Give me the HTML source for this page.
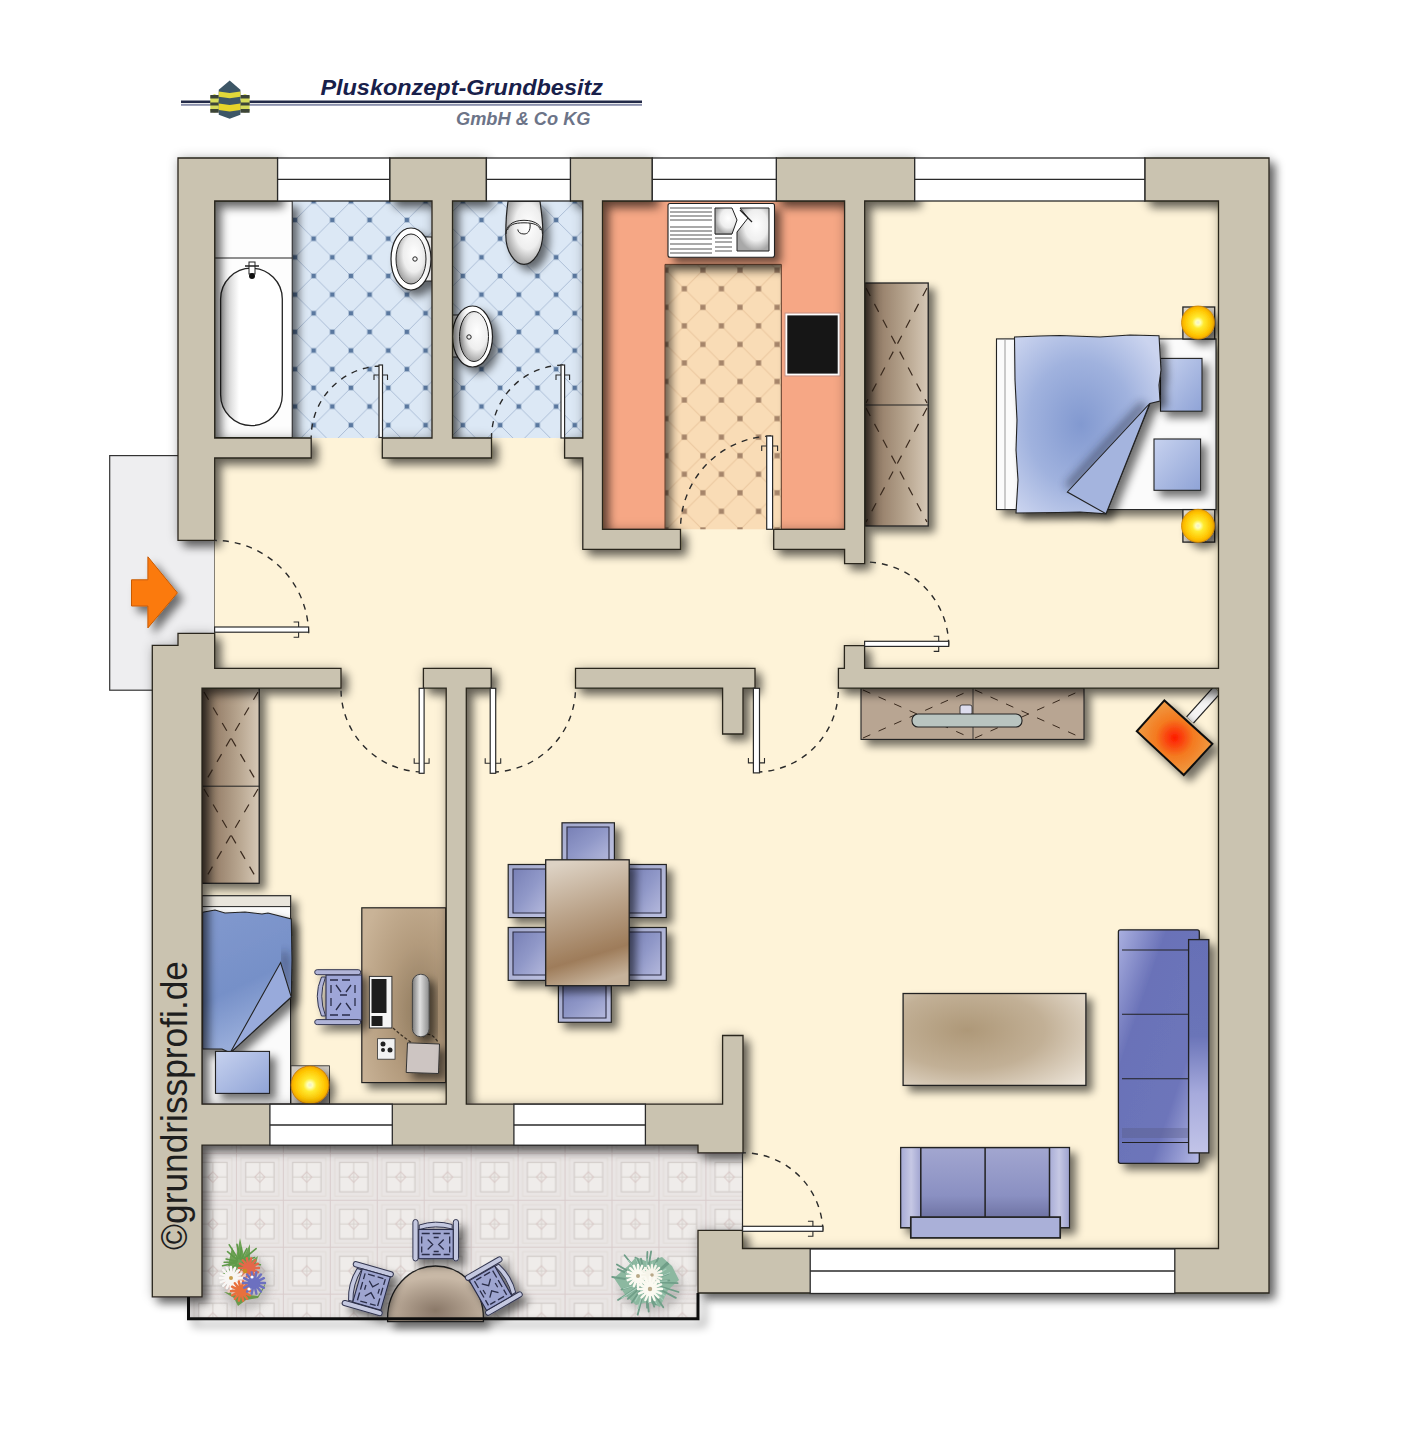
<!DOCTYPE html>
<html><head><meta charset="utf-8">
<style>
html,body{margin:0;padding:0;background:#fff;width:1418px;height:1440px;overflow:hidden;}
svg{display:block;}
text{font-family:"Liberation Sans",sans-serif;}
</style></head>
<body>
<svg width="1418" height="1440" viewBox="0 0 1418 1440">
<defs>
  <filter id="wallf" x="-5%" y="-5%" width="115%" height="115%">
    <feGaussianBlur in="SourceAlpha" stdDeviation="5" result="b"/>
    <feOffset in="b" dx="6" dy="6" result="o"/>
    <feComponentTransfer in="o" result="sh"><feFuncA type="linear" slope="0.55"/></feComponentTransfer>
    <feGaussianBlur in="SourceAlpha" stdDeviation="6" result="b2"/>
    <feComponentTransfer in="b2" result="glow"><feFuncA type="linear" slope="0.22"/></feComponentTransfer>
    <feMerge><feMergeNode in="glow"/><feMergeNode in="sh"/><feMergeNode in="SourceGraphic"/></feMerge>
  </filter>
  <filter id="sh" x="-50%" y="-50%" width="200%" height="200%">
    <feGaussianBlur in="SourceAlpha" stdDeviation="4" result="b"/>
    <feOffset in="b" dx="6" dy="6" result="o"/>
    <feComponentTransfer in="o" result="s"><feFuncA type="linear" slope="0.55"/></feComponentTransfer>
    <feMerge><feMergeNode in="s"/><feMergeNode in="SourceGraphic"/></feMerge>
  </filter>
  <pattern id="bathtile" patternUnits="userSpaceOnUse" width="37.3" height="37.3" x="332.3" y="220">
    <rect width="37.3" height="37.3" fill="#dce8f5"/>
    <path d="M0 0L37.3 37.3M37.3 0L0 37.3" stroke="#a2b5cf" stroke-width="0.85"/>
    <rect x="-2.3" y="-2.3" width="4.6" height="4.6" fill="#5a789f"/>
    <rect x="35" y="-2.3" width="4.6" height="4.6" fill="#5a789f"/>
    <rect x="-2.3" y="35" width="4.6" height="4.6" fill="#5a789f"/>
    <rect x="35" y="35" width="4.6" height="4.6" fill="#5a789f"/>
    <rect x="16.35" y="16.35" width="4.6" height="4.6" fill="#5a789f"/>
  </pattern>
  <pattern id="kittile" patternUnits="userSpaceOnUse" width="37.1" height="37.1" x="702.9" y="270.2">
    <rect width="37.1" height="37.1" fill="#f9dcb6"/>
    <path d="M0 0L37.1 37.1M37.1 0L0 37.1" stroke="#ecc9a0" stroke-width="1.1"/>
    <rect x="-2.6" y="-2.6" width="5.2" height="5.2" fill="#a6856a"/>
    <rect x="34.5" y="-2.6" width="5.2" height="5.2" fill="#a6856a"/>
    <rect x="-2.6" y="34.5" width="5.2" height="5.2" fill="#a6856a"/>
    <rect x="34.5" y="34.5" width="5.2" height="5.2" fill="#a6856a"/>
    <rect x="15.95" y="15.95" width="5.2" height="5.2" fill="#a6856a"/>
  </pattern>
  <pattern id="baltile" patternUnits="userSpaceOnUse" width="46.95" height="46.95" x="235.9" y="1152.8">
    <rect width="46.95" height="46.95" fill="#e9e5e4"/>
    <path d="M0 0.5H47M0.5 0V47" stroke="#d9cccc" stroke-width="1"/>
    <rect x="9.8" y="9.6" width="28.3" height="29.4" fill="#efecea" stroke="#cdc7c4" stroke-width="1"/>
    <path d="M23.9 9.6V39M9.8 24.3H38.1" stroke="#d6d0cc" stroke-width="1"/>
    <path d="M23.9 19L29 24.3L23.9 29.6L18.8 24.3Z" fill="none" stroke="#d8c8c6" stroke-width="1"/>
    <rect x="5" y="5" width="37.9" height="38.4" fill="none" stroke="#e2dcd8" stroke-width="1"/>
  </pattern>
  <filter id="noise" x="0" y="0" width="100%" height="100%">
    <feTurbulence type="fractalNoise" baseFrequency="0.9" numOctaves="2" seed="3" result="n"/>
    <feColorMatrix in="n" type="matrix" values="0 0 0 0 0.5  0 0 0 0 0.5  0 0 0 0 0.5  0 0 0 0.22 0" result="g"/>
    <feComposite in="g" in2="SourceGraphic" operator="in" result="gi"/>
    <feBlend in="SourceGraphic" in2="gi" mode="multiply"/>
  </filter>
  <filter id="shbal" filterUnits="userSpaceOnUse" x="150" y="1270" width="600" height="90">
    <feGaussianBlur in="SourceAlpha" stdDeviation="5" result="b"/>
    <feOffset in="b" dx="6" dy="6" result="o"/>
    <feComponentTransfer in="o" result="s"><feFuncA type="linear" slope="0.5"/></feComponentTransfer>
    <feMerge><feMergeNode in="s"/><feMergeNode in="SourceGraphic"/></feMerge>
  </filter>
  <filter id="soft" x="-20%" y="-20%" width="140%" height="140%"><feGaussianBlur stdDeviation="0.6"/></filter>
  <filter id="blur2"><feGaussianBlur stdDeviation="2"/></filter>
  <filter id="blur4" x="-50%" y="-50%" width="200%" height="200%"><feGaussianBlur stdDeviation="4"/></filter>
</defs>

<!-- LOGO -->
<g id="logo">
  <rect x="181" y="100.5" width="461" height="2.6" fill="#232a48"/>
  <rect x="181" y="104" width="461" height="1.8" fill="#8a90ac"/>
  <g id="bldg">
    <path d="M210.3 96 L214.5 94 L218.8 96 V111 L214.5 112.7 L210.3 111 Z" fill="#d6dc5a"/>
    <path d="M240.4 96 L245 94 L249.6 96 V111 L245 112.7 L240.4 111 Z" fill="#d6dc5a"/>
    <path d="M210.3 95H218.8V98.5H210.3ZM210.3 102.5H218.8V105.5H210.3ZM210.3 109H218.8V112.7H210.3Z M240.4 95H249.6V98.5H240.4ZM240.4 102.5H249.6V105.5H240.4ZM240.4 109H249.6V112.7H240.4Z" fill="#3c4438"/>
    <path d="M218.75 89.75 L229.7 80.6 L240.4 89.75 V114.8 L229.7 118.7 L218.75 114.8 Z" fill="#3d5666"/>
    <path d="M218.75 91.5 L229.7 93 L240.4 91.5 V96.8 L229.7 98.3 L218.75 96.8 Z" fill="#e2d83a"/>
    <path d="M218.75 103.5 L229.7 105 L240.4 103.5 V109.9 L229.7 111.4 L218.75 109.9 Z" fill="#e6d42a"/>
  </g>
  <text x="320.4" y="94.8" font-size="22.4" font-weight="bold" font-style="italic" fill="#18204a" textLength="282.6" lengthAdjust="spacingAndGlyphs">Pluskonzept-Grundbesitz</text>
  <text x="456" y="124.5" font-size="17.5" font-weight="bold" font-style="italic" fill="#6c7488" textLength="134.5" lengthAdjust="spacingAndGlyphs">GmbH &amp; Co KG</text>
</g>

<!-- FLOORS -->
<g id="floors">
  <!-- entrance vestibule -->
  <rect x="109.7" y="455.6" width="104.9" height="234.6" fill="#eeeef0" stroke="#333" stroke-width="1.2"/>
  <!-- main cream floor -->
  <rect x="214.6" y="437" width="1005" height="813" fill="#fef3d8"/>
  <rect x="200" y="670" width="30" height="440" fill="#fef3d8"/>
  <!-- bath -->
  <rect x="214.7" y="201" width="217.3" height="237" fill="url(#bathtile)"/>
  <rect x="452.5" y="201" width="130.3" height="237" fill="url(#bathtile)"/>
  <!-- kitchen -->
  <rect x="602.5" y="201" width="242.1" height="328.3" fill="url(#kittile)"/>
  <g filter="url(#sh)"><path d="M602.5 201H844.6V529.3H781.3V264.4H665V529.3H602.5Z" fill="#f6a785" stroke="#5a3a28" stroke-width="1"/></g>
  <!-- bedroom -->
  <rect x="864.6" y="201" width="354" height="468" fill="#fef3d8"/>
  <!-- balcony -->
  <path d="M202 1145H743V1230.4H698V1318.5H188.5V1297H202Z" fill="url(#baltile)"/>
</g>

<!-- FURNITURE -->
<defs>
  <linearGradient id="wood" x1="0" y1="0" x2="1" y2="0">
    <stop offset="0" stop-color="#6e5c4c"/><stop offset="0.3" stop-color="#9c8670"/><stop offset="0.65" stop-color="#b8a690"/><stop offset="1" stop-color="#d6c8b6"/>
  </linearGradient>
  <linearGradient id="woodv" x1="0" y1="0" x2="0" y2="1">
    <stop offset="0" stop-color="#8a725e"/><stop offset="0.5" stop-color="#b49e8a"/><stop offset="1" stop-color="#d2c3b3"/>
  </linearGradient>
  <linearGradient id="table" x1="0.3" y1="0" x2="0.5" y2="1">
    <stop offset="0" stop-color="#ddd2c4"/><stop offset="0.4" stop-color="#bca58c"/><stop offset="0.78" stop-color="#9e7c5a"/><stop offset="1" stop-color="#c6b29a"/>
  </linearGradient>
  <radialGradient id="ctable" cx="0.35" cy="0.4" r="0.85">
    <stop offset="0" stop-color="#ae9878"/><stop offset="0.5" stop-color="#c2b096"/><stop offset="1" stop-color="#ece4d8"/>
  </radialGradient>
  <linearGradient id="monitor" x1="0" y1="0" x2="1" y2="0">
    <stop offset="0" stop-color="#7a7a7a"/><stop offset="0.45" stop-color="#e0e0e0"/><stop offset="1" stop-color="#8a8a8a"/>
  </linearGradient>
  <radialGradient id="desk" cx="0.7" cy="0.6" r="0.8">
    <stop offset="0" stop-color="#8f7a5e"/><stop offset="0.5" stop-color="#b39b7d"/><stop offset="1" stop-color="#c9b397"/>
  </radialGradient>
  <radialGradient id="blanket" cx="0.45" cy="0.5" r="0.65">
    <stop offset="0" stop-color="#8299d0"/><stop offset="0.55" stop-color="#a0b2de"/><stop offset="1" stop-color="#cbd4ef"/>
  </radialGradient>
  <linearGradient id="blanket2" x1="0" y1="0" x2="0.3" y2="1">
    <stop offset="0" stop-color="#8299ce"/><stop offset="0.6" stop-color="#7690c8"/><stop offset="1" stop-color="#9cb0dc"/>
  </linearGradient>
  <linearGradient id="pillow" x1="0" y1="0" x2="1" y2="1">
    <stop offset="0" stop-color="#c7d2ef"/><stop offset="1" stop-color="#8fa3d6"/>
  </linearGradient>
  <radialGradient id="lamp" cx="0.5" cy="0.5" r="0.5">
    <stop offset="0" stop-color="#f0ecd0"/><stop offset="0.14" stop-color="#ffffb8"/><stop offset="0.35" stop-color="#ffea30"/><stop offset="0.8" stop-color="#ffc400"/><stop offset="1" stop-color="#f2a800"/>
  </radialGradient>
  <linearGradient id="sofa" x1="0" y1="0" x2="1" y2="1">
    <stop offset="0" stop-color="#aab0e0"/><stop offset="0.3" stop-color="#6a72b8"/><stop offset="0.7" stop-color="#6d75ba"/><stop offset="1" stop-color="#b6bae6"/>
  </linearGradient>
  <linearGradient id="sofah" x1="0" y1="0" x2="0" y2="1">
    <stop offset="0" stop-color="#a2a6d0"/><stop offset="0.6" stop-color="#8a90c2"/><stop offset="0.9" stop-color="#6c70a0"/><stop offset="1" stop-color="#9a9ecc"/>
  </linearGradient>
  <linearGradient id="sofaback" x1="0" y1="0" x2="0" y2="1">
    <stop offset="0" stop-color="#6670b6"/><stop offset="0.45" stop-color="#6a74b8"/><stop offset="0.72" stop-color="#a6aadc"/><stop offset="1" stop-color="#c2c4e8"/>
  </linearGradient>
  <linearGradient id="sofaarm" x1="0" y1="0" x2="1" y2="0">
    <stop offset="0" stop-color="#a8acd6"/><stop offset="0.5" stop-color="#c6c8e4"/><stop offset="1" stop-color="#a0a4d0"/>
  </linearGradient>
  <linearGradient id="chair" x1="0" y1="0" x2="1" y2="1">
    <stop offset="0" stop-color="#a2a8cc"/><stop offset="1" stop-color="#bcc0e0"/>
  </linearGradient>
  <linearGradient id="seat" x1="0" y1="0" x2="1" y2="1">
    <stop offset="0" stop-color="#7880b6"/><stop offset="0.5" stop-color="#9098c8"/><stop offset="1" stop-color="#b4b8dc"/>
  </linearGradient>
  <radialGradient id="fire" cx="0.5" cy="0.5" r="0.55">
    <stop offset="0" stop-color="#ff1a00"/><stop offset="0.45" stop-color="#f47a20"/><stop offset="1" stop-color="#eea24a"/>
  </radialGradient>
  <linearGradient id="tub" x1="0" y1="0" x2="1" y2="0">
    <stop offset="0" stop-color="#b8b8b8"/><stop offset="0.3" stop-color="#fff"/><stop offset="1" stop-color="#fff"/>
  </linearGradient>
  <radialGradient id="basin" cx="0.6" cy="0.4" r="0.6">
    <stop offset="0" stop-color="#fff"/><stop offset="0.6" stop-color="#eee"/><stop offset="1" stop-color="#a8a8a8"/>
  </radialGradient>
  <radialGradient id="halft" cx="0.5" cy="0.8" r="0.6">
    <stop offset="0" stop-color="#8a7868"/><stop offset="1" stop-color="#c8b8a6"/>
  </radialGradient>
</defs>
<g id="furniture" stroke="#222" stroke-width="1.3">
  <!-- bath -->
  <g filter="url(#sh)">
    <rect x="214.7" y="201" width="77.5" height="236.5" fill="#fdfdfd" stroke-width="1"/>
  </g>
  <path d="M214.7 258H292.2" stroke-width="1"/>
  <rect x="220.6" y="268.2" width="61.7" height="157.4" rx="30.8" fill="url(#tub)"/>
  <rect x="249" y="262" width="6" height="12" fill="#fff" stroke-width="1"/>
  <path d="M245 266H259" stroke-width="1.5"/>
  <circle cx="252" cy="276" r="3" fill="#111" stroke="none"/>
  <g filter="url(#sh)">
    <rect x="418" y="237" width="14" height="44" fill="#fff" stroke-width="1"/>
    <ellipse cx="411" cy="259" rx="20" ry="31" fill="#fff" stroke-width="1.2"/>
  </g>
  <ellipse cx="411" cy="259" rx="15" ry="25" fill="url(#basin)" stroke-width="1"/>
  <circle cx="415" cy="259" r="2.2" fill="none" stroke-width="1"/>
  <!-- wc -->
  <g filter="url(#sh)">
    <path d="M508 201.4 L540 201.4 C542 215 543 225 542.8 234 C542.5 252 533 264.4 524 264.4 C515 264.4 505.5 252 505.8 234 C505.8 225 506 215 508 201.4Z" fill="url(#basin)" stroke-width="1.2"/>
  </g>
  <path d="M506 234 C506 226 512 220.3 524 220.3 C536 220.3 542.5 226 542.5 234M507.5 230 C509 225 514 222.8 524 222.8 C534 222.8 539 225 540.5 230" fill="none" stroke-width="1"/>
  <path d="M530 223 C531 232 527 234 524 234 C520 234 518 232 517.8 229.4" fill="none" stroke-width="1"/>
  <g filter="url(#sh)">
    <rect x="452.5" y="315" width="12" height="42" fill="#fff" stroke-width="1"/>
    <ellipse cx="472.5" cy="336.5" rx="20" ry="30.5" fill="#fff" stroke-width="1.2"/>
  </g>
  <ellipse cx="474" cy="336.5" rx="14.5" ry="25" fill="url(#basin)" stroke-width="1"/>
  <circle cx="469" cy="337" r="2.2" fill="none" stroke-width="1"/>
  <!-- kitchen sink -->
  <g filter="url(#sh)">
    <rect x="668" y="203.5" width="106.5" height="53.8" rx="2" fill="#fff" stroke-width="1.1"/>
  </g>
  <g stroke="#555" stroke-width="1.2">
    <path d="M670 208H712M670 212H712M670 216H712M670 220H712M670 227H712M670 231H712M670 235H712M670 239H712M670 244H712M670 249H712M670 253H712"/>
    <path d="M715 234H732M715 238H732M715 242H732M715 247H732M715 251H732"/>
  </g>
  <path d="M715 208H732L737 220L732 234H715Z" fill="url(#basin)" stroke-width="1"/>
  <path d="M740 208H769V251H737V232L748 218Z" fill="url(#basin)" stroke-width="1"/>
  <path d="M740 210L752 222" stroke-width="1.3"/>
  <!-- hob -->
  <rect x="786.3" y="314.4" width="52.4" height="60.2" fill="#161616" stroke="#fff" stroke-width="2"/>
  <rect x="785" y="313" width="55" height="63" fill="none" stroke="#a88" stroke-width="0.6"/>
</g>

<g id="furniture2" stroke="#222" stroke-width="1.3">
  <!-- bedroom wardrobe -->
  <g filter="url(#sh)">
    <rect x="864.9" y="283" width="63.3" height="243" fill="url(#wood)"/>
  </g>
  <path d="M864.9 405H928.2" stroke-width="1"/>
  <g stroke="#3a2a1e" stroke-width="1.2" stroke-dasharray="9 9" fill="none">
    <path d="M866 288L927 403M927 288L866 403M866 408L927 522M927 408L866 522"/>
  </g>
  <!-- bed -->
  <g filter="url(#sh)">
    <rect x="996.5" y="338.9" width="219.5" height="170.7" fill="#fbfbfb" stroke-width="1.1"/>
  </g>
  <path d="M1005 339V509" stroke="#999" stroke-width="1"/>
  <g filter="url(#sh)">
    <rect x="1160.5" y="358.4" width="41.5" height="52.8" fill="url(#pillow)" stroke-width="1.1"/>
    <rect x="1154" y="439" width="46.6" height="51.3" fill="url(#pillow)" stroke-width="1.1"/>
  </g>
  <g filter="url(#sh)">
    <path d="M1014.5 337 L1040 336 L1060 335.5 L1100 337 L1130 335 L1159 335.8 L1161 370 L1159 385 L1160 401 L1150 403.5 L1106 513.8 L1080 512 L1058 512.5 L1016 513 L1018 480 L1016 450 L1017 420 L1015 380 Z" fill="url(#blanket)" stroke-width="1.1"/>
  </g>
  <path d="M1144 404 L1068 487" stroke="#1e2236" stroke-width="8" opacity="0.5" fill="none" filter="url(#blur4)"/>
  <path d="M1149.7 403.5 L1067.4 492 L1106 513.8 Z" fill="#a4b4de" stroke-width="1.1"/>
  <!-- nightstands + lamps -->
  <rect x="1182.9" y="307" width="31.8" height="32" fill="#ddd6c8" stroke-width="1.3"/>
  <rect x="1182.9" y="509.6" width="31.8" height="32.5" fill="#ddd6c8" stroke-width="1.3"/>
  <g filter="url(#sh)">
    <circle cx="1198" cy="322.5" r="16.5" fill="url(#lamp)" stroke="#d08800" stroke-width="0.8"/>
    <circle cx="1198" cy="525.8" r="16.5" fill="url(#lamp)" stroke="#d08800" stroke-width="0.8"/>
  </g>
  <!-- sideboard -->
  <g filter="url(#sh)">
    <rect x="861" y="688" width="223" height="51.4" fill="#b8a592" stroke-width="1.1"/>
  </g>
  <path d="M973 688V739" stroke-width="0.8"/>
  <g stroke="#3a2a1e" stroke-width="1" stroke-dasharray="8 9" fill="none">
    <path d="M863 738L971 690M863 690L971 738M975 738L1082 690M975 690L1082 738"/>
  </g>
  <rect x="960" y="705" width="12" height="10" rx="2" fill="#dde" stroke-width="0.8"/>
  <rect x="912" y="714" width="110" height="13" rx="6" fill="#b9c4c0" stroke-width="1.1"/>
  <!-- fireplace -->
  <path d="M1190 720 L1217 690" stroke="#222" stroke-width="10.5" stroke-linecap="butt"/><path d="M1190 720 L1217 690" stroke="#f4f4f4" stroke-width="8" stroke-linecap="butt"/>
  <g filter="url(#sh)">
    <path d="M1164.4 700.4 L1136.8 731.3 L1183.8 775 L1212.4 743.9 Z" fill="url(#fire)" stroke="#111" stroke-width="2"/>
  </g>
  <!-- dining -->
  <g filter="url(#sh)" fill="url(#chair)" stroke-width="1.2">
    <rect x="562" y="822.8" width="52.4" height="38"/>
    <rect x="508.2" y="864.5" width="38.8" height="53.1"/>
    <rect x="508.2" y="927.5" width="38.8" height="52.9"/>
    <rect x="628" y="864.5" width="38.3" height="53.1"/>
    <rect x="628" y="927.5" width="38.3" height="52.9"/>
    <rect x="558.4" y="985" width="52.9" height="37.3"/>
  </g>
  <g fill="url(#seat)" stroke="none">
    <rect x="567" y="827" width="42" height="33"/>
    <rect x="513" y="869" width="33" height="44"/><rect x="513" y="932" width="33" height="43"/>
    <rect x="628" y="869" width="33" height="44"/><rect x="628" y="932" width="33" height="43"/>
    <rect x="563" y="986" width="43" height="32"/>
  </g>
  <g fill="none" stroke-width="1.1" stroke="#2a2a40">
    <path d="M567 860V827H609V860"/>
    <path d="M546 869H513V913H546M546 932H513V975H546"/>
    <path d="M628 869H661V913H628M628 932H661V975H628"/>
    <path d="M563 986V1018H606V986"/>
  </g>
  <g filter="url(#sh)">
    <rect x="545.7" y="859.8" width="83.5" height="125.9" fill="url(#table)" stroke-width="1.3"/>
  </g>
  <!-- coffee table -->
  <g filter="url(#sh)">
    <rect x="903.1" y="993.5" width="182.8" height="91.9" fill="url(#ctable)" stroke-width="1.3"/>
  </g>
  <!-- sofa vertical -->
  <g filter="url(#sh)">
    <rect x="1118.4" y="929.8" width="80.9" height="233.5" rx="2" fill="url(#sofa)" stroke-width="1.3"/>
    <rect x="1188.6" y="939.6" width="20.2" height="213.3" fill="url(#sofaback)" stroke-width="1.3"/>
  </g>
  <path d="M1122 950H1188M1122 1014.3H1188M1122 1078.8H1188M1122 1142.5H1188" stroke-width="1.1"/>
  <rect x="1122" y="1128" width="66" height="10" fill="#555a80" opacity="0.35" stroke="none"/>
  <!-- sofa bottom -->
  <g filter="url(#sh)">
    <rect x="900.8" y="1147.6" width="168.6" height="80.2" fill="url(#sofah)" stroke-width="1.5"/>
  </g>
  <rect x="901.5" y="1148.4" width="19.3" height="78.6" fill="url(#sofaarm)" stroke="none"/>
  <rect x="1049.5" y="1148.4" width="19.3" height="78.6" fill="url(#sofaarm)" stroke="none"/>
  <path d="M920.8 1148V1217M985.1 1148V1217M1049.5 1148V1217" stroke-width="1.5"/>
  <rect x="910.8" y="1217.1" width="149.4" height="20.8" fill="#aab0d8" stroke-width="1.7"/>
  <!-- child wardrobe -->
  <g filter="url(#sh)">
    <rect x="201.9" y="688" width="57.3" height="195.3" fill="url(#wood)"/>
  </g>
  <path d="M201.9 786.2H259.2" stroke-width="1"/>
  <g stroke="#3a2a1e" stroke-width="1.2" stroke-dasharray="9 9" fill="none">
    <path d="M204 692L258 784M258 692L204 784M204 789L258 881M258 789L204 881"/>
  </g>
  <!-- child bed -->
  <g filter="url(#sh)">
    <rect x="201.9" y="895.8" width="88.7" height="208.4" fill="#fbfbfb" stroke-width="1.1"/>
  </g>
  <rect x="201.9" y="895.8" width="88.7" height="10.8" fill="#e9e5dc" stroke-width="1"/>
  <g filter="url(#sh)">
    <path d="M202.6 912.2 L215 910 L225 913 L245 912 L262 914 L268 913 L291.3 919 L292 960 L291.3 997 L230.2 1052.8 L222 1049 L202.6 1049 Z" fill="url(#blanket2)" stroke-width="1.1"/>
  </g>
  <path d="M284 952 L289 990" stroke="#1e2236" stroke-width="7" opacity="0.45" fill="none" filter="url(#blur4)"/>
  <path d="M280.6 962.6 L291.3 997 L230.2 1052.8 Z" fill="#98aadb" stroke-width="1.1"/>
  <g filter="url(#sh)">
    <rect x="215.5" y="1051.4" width="54" height="42" fill="url(#pillow)" stroke-width="1.1"/>
  </g>
  <rect x="291" y="1065.8" width="38.4" height="38.2" fill="#cfc9c0" stroke-width="0.8"/>
  <g filter="url(#sh)">
    <circle cx="310" cy="1085" r="19" fill="url(#lamp)" stroke="#c07000" stroke-width="0.8"/>
  </g>
  <!-- desk -->
  <g filter="url(#sh)">
    <rect x="361.8" y="907.8" width="83.9" height="174.8" fill="url(#desk)" stroke-width="1.2"/>
  </g>
  <g filter="url(#sh)">
    <rect x="326" y="975" width="35.5" height="45" fill="#9ea6d8" stroke="#2a2d48" stroke-width="1.1"/>
    <rect x="314.7" y="969.7" width="46" height="5" rx="2.5" fill="#b0b4d8" stroke="#333650" stroke-width="1"/>
    <rect x="314.7" y="1019.6" width="46" height="5" rx="2.5" fill="#b0b4d8" stroke="#333650" stroke-width="1"/>
    <path d="M321.5 977 Q313 996 321.5 1016 H325.5 Q318 996 325.5 977Z" fill="#b0b4d8" stroke="#333650" stroke-width="1"/>
  </g>
  <path d="M330 980H338M342 980H350M330 1015H338M342 1015H350M331 985V993M331 998V1006M355 985V993M355 998V1006M336 985L341 992M346 992L351 985M336 1010L341 1003M346 1003L351 1010M340 995H347" stroke="#2a2d48" stroke-width="1.3" fill="none"/>
  <path d="M393 1028 Q402 1036 412 1043M423 1037 Q430 1030 438 1042" fill="none" stroke="#3a3024" stroke-width="1.2" stroke-dasharray="3 2"/>
  <rect x="369.4" y="976.4" width="22.5" height="51.6" fill="#f4f4f4" stroke="#333" stroke-width="1"/>
  <rect x="371.5" y="979" width="15" height="34" fill="#1c1c1c" stroke="none"/>
  <rect x="371.5" y="1016" width="11" height="10" fill="#1c1c1c" stroke="none"/>
  <g filter="url(#sh)">
    <rect x="412.4" y="974.3" width="16.8" height="62.4" rx="8" fill="url(#monitor)" stroke="#444" stroke-width="1"/>
  </g>
  <rect x="377.6" y="1038.7" width="17.4" height="20.5" fill="#f2f2f2" stroke="#333" stroke-width="0.8"/>
  <circle cx="383" cy="1044" r="2.5" fill="#222" stroke="none"/><circle cx="383" cy="1050" r="2" fill="#222" stroke="none"/><circle cx="390" cy="1050" r="2.5" fill="#222" stroke="none"/>
  <g filter="url(#sh)">
    <path d="M407.5 1042.8 L439.5 1044 L438.5 1073.5 L406.2 1072.5Z" fill="#cdc5c2" stroke="#333" stroke-width="1"/>
  </g>
  <!-- balcony -->
  <g filter="url(#sh)">
    <path d="M387.6 1318 A47.9 52 0 0 1 483.4 1318 V1321.7 H387.6Z" fill="url(#halft)" stroke-width="1.3"/>
  </g>
  <g filter="url(#sh)">
    <g transform="translate(435.7 1240.5)"><g class="bchair">
      <rect x="-22.8" y="-21" width="5.2" height="41.5" rx="2.6" fill="#c4c8e0" stroke="#333650" stroke-width="1"/>
      <rect x="17.6" y="-21" width="5.2" height="41.5" rx="2.6" fill="#c4c8e0" stroke="#333650" stroke-width="1"/>
      <path d="M-16.5 -15.5 Q0 -21 16.5 -16 V-11.5 Q0 -16 -16.5 -11Z" fill="#c4c8e0" stroke="#333650" stroke-width="1"/>
      <rect x="-17" y="-11" width="34.5" height="29.2" fill="#9ea5d0" stroke="#2a2d48" stroke-width="1.1"/>
      <path d="M-14 -7H-6M-3 -7H5M8 -7H14M-14 14H-6M-3 14H5M8 14H14M-14 -4V3M-14 6V12M14 -4V3M14 6V12M-8 -1L-3 4L-8 9M8 -1L3 4L8 9M-2 -3H3M-2 11H3" stroke="#2a2d48" stroke-width="1.3" fill="none"/>
    </g></g>
    <g transform="translate(368 1288.7) rotate(-74)"><g class="bchair">
      <rect x="-22.8" y="-21" width="5.2" height="41.5" rx="2.6" fill="#c4c8e0" stroke="#333650" stroke-width="1"/>
      <rect x="17.6" y="-21" width="5.2" height="41.5" rx="2.6" fill="#c4c8e0" stroke="#333650" stroke-width="1"/>
      <path d="M-16.5 -15.5 Q0 -21 16.5 -16 V-11.5 Q0 -16 -16.5 -11Z" fill="#c4c8e0" stroke="#333650" stroke-width="1"/>
      <rect x="-17" y="-11" width="34.5" height="29.2" fill="#9ea5d0" stroke="#2a2d48" stroke-width="1.1"/>
      <path d="M-14 -7H-6M-3 -7H5M8 -7H14M-14 14H-6M-3 14H5M8 14H14M-14 -4V3M-14 6V12M14 -4V3M14 6V12M-8 -1L-3 4L-8 9M8 -1L3 4L8 9M-2 -3H3M-2 11H3" stroke="#2a2d48" stroke-width="1.3" fill="none"/>
    </g></g>
    <g transform="translate(493.6 1286.2) rotate(60)"><g class="bchair">
      <rect x="-22.8" y="-21" width="5.2" height="41.5" rx="2.6" fill="#c4c8e0" stroke="#333650" stroke-width="1"/>
      <rect x="17.6" y="-21" width="5.2" height="41.5" rx="2.6" fill="#c4c8e0" stroke="#333650" stroke-width="1"/>
      <path d="M-16.5 -15.5 Q0 -21 16.5 -16 V-11.5 Q0 -16 -16.5 -11Z" fill="#c4c8e0" stroke="#333650" stroke-width="1"/>
      <rect x="-17" y="-11" width="34.5" height="29.2" fill="#9ea5d0" stroke="#2a2d48" stroke-width="1.1"/>
      <path d="M-14 -7H-6M-3 -7H5M8 -7H14M-14 14H-6M-3 14H5M8 14H14M-14 -4V3M-14 6V12M14 -4V3M14 6V12M-8 -1L-3 4L-8 9M8 -1L3 4L8 9M-2 -3H3M-2 11H3" stroke="#2a2d48" stroke-width="1.3" fill="none"/>
    </g></g>
  </g>
  <g stroke="none" filter="url(#soft)"><ellipse cx="246" cy="1283" rx="24" ry="28" fill="#666" opacity="0.3" filter="url(#blur4)"/><path d="M228 1266 L232 1247 L236 1258 L240 1238 L244 1256 L250 1244 L250 1262 L258 1256 L254 1272Z" fill="#6ea256"/><path d="M244.1 1262.6L260.4 1264.8M242.9 1262.6L254.3 1265.1M242.7 1264.7L253.4 1275.7M241.5 1264.9L247.4 1276.4M240.5 1265.6L242.6 1280.1M239.4 1265.0L237.0 1276.8M238.4 1264.9L231.9 1276.7M236.6 1264.5L223.1 1274.4M236.5 1262.8L222.6 1265.8M236.8 1262.1L224.1 1262.3M237.2 1261.4L226.1 1259.0M237.5 1259.9L227.5 1251.7M237.9 1258.6L229.3 1244.8M239.4 1258.5L237.0 1244.3M240.3 1259.2L241.3 1247.9M241.4 1259.3L246.8 1248.7M243.2 1259.3L256.1 1248.6M242.9 1261.1L254.6 1257.5" stroke="#5e9a48" stroke-width="1.6" stroke-linecap="round" fill="none"/><path d="M224 1292 L234 1298 L238 1306 L246 1300 L258 1298 L264 1288 L266 1282 L258 1296Z" fill="#6a9a4c"/><path d="M251.5 1268.0L259.0 1268.0M251.3 1269.1L258.0 1272.3M250.6 1270.0L255.2 1275.8M249.6 1270.4L251.2 1277.7M248.4 1270.4L246.8 1277.7M247.4 1270.0L242.8 1275.8M246.7 1269.1L240.0 1272.3M246.5 1268.0L239.0 1268.0M246.7 1266.9L240.0 1263.7M247.4 1266.0L242.8 1260.2M248.4 1265.6L246.8 1258.3M249.6 1265.6L251.2 1258.3M250.6 1266.0L255.2 1260.2M251.3 1266.9L258.0 1263.7" stroke="#e4684a" stroke-width="2.4" stroke-linecap="round" fill="none"/><circle cx="249" cy="1268" r="5.5" fill="#e4684a"/><path d="M240.0 1283.0L249.0 1283.0M239.8 1284.1L248.1 1287.6M239.1 1285.1L245.5 1291.5M238.1 1285.8L241.6 1294.1M237.0 1286.0L237.0 1295.0M235.9 1285.8L232.4 1294.1M234.9 1285.1L228.5 1291.5M234.2 1284.1L225.9 1287.6M234.0 1283.0L225.0 1283.0M234.2 1281.9L225.9 1278.4M234.9 1280.9L228.5 1274.5M235.9 1280.2L232.4 1271.9M237.0 1280.0L237.0 1271.0M238.1 1280.2L241.6 1271.9M239.1 1280.9L245.5 1274.5M239.8 1281.9L248.1 1278.4" stroke="#ecc8c0" stroke-width="2.6" stroke-linecap="round" fill="none"/><circle cx="237" cy="1283" r="6.6" fill="#ecc8c0"/><path d="M233.8 1278.0L242.0 1278.0M233.5 1279.1L241.2 1282.2M232.9 1279.9L238.8 1285.8M232.1 1280.5L235.2 1288.2M231.0 1280.8L231.0 1289.0M229.9 1280.5L226.8 1288.2M229.1 1279.9L223.2 1285.8M228.5 1279.1L220.8 1282.2M228.2 1278.0L220.0 1278.0M228.5 1276.9L220.8 1273.8M229.1 1276.1L223.2 1270.2M229.9 1275.5L226.8 1267.8M231.0 1275.2L231.0 1267.0M232.1 1275.5L235.2 1267.8M232.9 1276.1L238.8 1270.2M233.5 1276.9L241.2 1273.8" stroke="#f8f6f4" stroke-width="2.4" stroke-linecap="round" fill="none"/><circle cx="231" cy="1278" r="6.1" fill="#f8f6f4"/><circle cx="231" cy="1278" r="2.0" fill="#c8a050"/><path d="M243.5 1291.0L251.0 1291.0M243.3 1292.1L250.0 1295.3M242.6 1293.0L247.2 1298.8M241.6 1293.4L243.2 1300.7M240.4 1293.4L238.8 1300.7M239.4 1293.0L234.8 1298.8M238.7 1292.1L232.0 1295.3M238.5 1291.0L231.0 1291.0M238.7 1289.9L232.0 1286.7M239.4 1289.0L234.8 1283.2M240.4 1288.6L238.8 1281.3M241.6 1288.6L243.2 1281.3M242.6 1289.0L247.2 1283.2M243.3 1289.9L250.0 1286.7" stroke="#e8703e" stroke-width="2.4" stroke-linecap="round" fill="none"/><circle cx="241" cy="1291" r="5.5" fill="#e8703e"/><path d="M256.8 1283.0L265.0 1283.0M256.5 1284.2L263.9 1287.8M255.7 1285.2L260.9 1291.6M254.6 1285.7L256.4 1293.7M253.4 1285.7L251.6 1293.7M252.3 1285.2L247.1 1291.6M251.5 1284.2L244.1 1287.8M251.2 1283.0L243.0 1283.0M251.5 1281.8L244.1 1278.2M252.3 1280.8L247.1 1274.4M253.4 1280.3L251.6 1272.3M254.6 1280.3L256.4 1272.3M255.7 1280.8L260.9 1274.4M256.5 1281.8L263.9 1278.2" stroke="#6c70c0" stroke-width="2.4" stroke-linecap="round" fill="none"/><circle cx="254" cy="1283" r="6.1" fill="#6c70c0"/><circle cx="252" cy="1277" r="1.6" fill="#fff"/><circle cx="249" cy="1289" r="1.6" fill="#fff"/><circle cx="245" cy="1271" r="2.2" fill="#c89020"/></g>
  <g stroke="none" filter="url(#soft)"><ellipse cx="651" cy="1287" rx="32" ry="25" fill="#666" opacity="0.3" filter="url(#blur4)"/><path d="M614 1278 L628 1266 L636 1257 L648 1262 L662 1257 L672 1266 L679 1280 L668 1290 L660 1307 L648 1302 L636 1305 L626 1296 Z" fill="#8cb8a0"/><path d="M652.3 1282.2L677.6 1283.2M652.5 1284.0L678.5 1292.0M652.0 1285.2L675.8 1297.9M651.0 1284.7L671.2 1295.3M649.5 1287.1L663.3 1307.3M647.9 1286.5L655.6 1304.4M647.6 1286.9L654.2 1306.6M646.5 1287.9L648.7 1311.6M646.2 1287.1L647.1 1307.6M644.3 1288.5L637.7 1314.7M643.2 1286.1L631.8 1302.5M642.4 1285.4L627.9 1298.8M641.9 1284.7L625.6 1295.7M640.4 1285.6L618.0 1299.9M641.1 1283.5L621.5 1289.5M639.4 1281.0L613.2 1277.2M639.2 1281.0L612.2 1277.0M640.4 1279.4L617.9 1269.1M640.2 1278.5L616.9 1264.5M641.7 1276.7L624.6 1255.3M643.9 1277.1L635.5 1257.6M644.3 1277.3L637.3 1258.6M645.0 1277.3L641.0 1258.7M646.3 1276.0L647.4 1252.0M647.0 1275.9L651.1 1251.5M648.4 1277.3L658.2 1258.3M650.2 1278.1L667.1 1262.6M650.4 1278.4L668.2 1263.9M650.5 1280.3L668.3 1273.7M650.7 1281.7L669.3 1280.4" stroke="#6f9e88" stroke-width="1.8" stroke-linecap="round" fill="none"/><path d="M650.2 1281.8L667.0 1280.9M649.8 1283.4L665.0 1289.1M649.7 1284.8L664.6 1295.8M649.4 1285.6L662.9 1299.8M648.1 1286.3L656.4 1303.4M646.5 1286.1L648.6 1302.3M644.4 1287.3L638.0 1308.5M643.9 1285.8L635.3 1301.0M641.2 1285.2L622.0 1298.1M641.5 1283.3L623.5 1288.7M642.0 1281.4L626.1 1279.1M641.9 1280.2L625.5 1272.8M642.4 1279.9L628.0 1271.7M642.5 1277.7L628.5 1260.6M644.0 1277.4L635.9 1258.8M646.2 1277.4L647.0 1258.8M647.3 1278.2L652.5 1262.9M648.1 1278.2L656.3 1263.0M650.0 1279.4L666.0 1269.1M650.7 1280.2L669.6 1272.8" stroke="#a4ccb8" stroke-width="1.2" stroke-linecap="round" fill="none"/><path d="M640.8 1276.0L649.0 1276.0M640.5 1277.1L648.2 1280.2M639.9 1277.9L645.8 1283.8M639.1 1278.5L642.2 1286.2M638.0 1278.8L638.0 1287.0M636.9 1278.5L633.8 1286.2M636.1 1277.9L630.2 1283.8M635.5 1277.1L627.8 1280.2M635.2 1276.0L627.0 1276.0M635.5 1274.9L627.8 1271.8M636.1 1274.1L630.2 1268.2M636.9 1273.5L633.8 1265.8M638.0 1273.2L638.0 1265.0M639.1 1273.5L642.2 1265.8M639.9 1274.1L645.8 1268.2M640.5 1274.9L648.2 1271.8" stroke="#fbfaf2" stroke-width="2.4" stroke-linecap="round" fill="none"/><circle cx="638" cy="1276" r="6.1" fill="#fbfaf2"/><circle cx="638" cy="1276" r="2.0" fill="#b8a888"/><path d="M654.5 1275.0L662.0 1275.0M654.3 1276.0L661.2 1278.8M653.8 1276.8L659.1 1282.1M653.0 1277.3L655.8 1284.2M652.0 1277.5L652.0 1285.0M651.0 1277.3L648.2 1284.2M650.2 1276.8L644.9 1282.1M649.7 1276.0L642.8 1278.8M649.5 1275.0L642.0 1275.0M649.7 1274.0L642.8 1271.2M650.2 1273.2L644.9 1267.9M651.0 1272.7L648.2 1265.8M652.0 1272.5L652.0 1265.0M653.0 1272.7L655.8 1265.8M653.8 1273.2L659.1 1267.9M654.3 1274.0L661.2 1271.2" stroke="#f6f4ea" stroke-width="2.2" stroke-linecap="round" fill="none"/><circle cx="652" cy="1275" r="5.5" fill="#f6f4ea"/><circle cx="652" cy="1275" r="1.8" fill="#b8a888"/><path d="M653.0 1289.0L662.0 1289.0M652.8 1290.1L661.1 1293.6M652.1 1291.1L658.5 1297.5M651.1 1291.8L654.6 1300.1M650.0 1292.0L650.0 1301.0M648.9 1291.8L645.4 1300.1M647.9 1291.1L641.5 1297.5M647.2 1290.1L638.9 1293.6M647.0 1289.0L638.0 1289.0M647.2 1287.9L638.9 1284.4M647.9 1286.9L641.5 1280.5M648.9 1286.2L645.4 1277.9M650.0 1286.0L650.0 1277.0M651.1 1286.2L654.6 1277.9M652.1 1286.9L658.5 1280.5M652.8 1287.9L661.1 1284.4" stroke="#fbfaf2" stroke-width="2.4" stroke-linecap="round" fill="none"/><circle cx="650" cy="1289" r="6.6" fill="#fbfaf2"/><circle cx="650" cy="1289" r="2.2" fill="#b8a888"/></g>
  <!-- arrow -->
  <g filter="url(#sh)">
    <path d="M131.5 579.8H147.9V556.8L177.4 592.9L147.9 627.9V606H131.5Z" fill="#fb7a10" stroke="#c85a00" stroke-width="1"/>
  </g>
</g>

<!-- WALLS -->
<g id="walls" filter="url(#wallf)"><path d="M382.3 458.0 L491.5 458.0 L491.5 438.0 L452.5 438.0 L452.5 201.0 L486.4 201.0 L486.4 158.0 L389.7 158.0 L389.7 201.0 L432.0 201.0 L432.0 438.0 L382.3 438.0ZM582.8 201.0 L582.8 438.0 L564.6 438.0 L564.6 458.0 L582.8 458.0 L582.8 549.4 L680.5 549.4 L680.5 529.3 L602.5 529.3 L602.5 201.0 L652.3 201.0 L652.3 158.0 L570.4 158.0 L570.4 201.0ZM844.6 201.0 L844.6 529.3 L773.7 529.3 L773.7 549.4 L844.6 549.4 L844.6 563.6 L864.7 563.6 L864.7 201.0 L914.7 201.0 L914.7 158.0 L776.3 158.0 L776.3 201.0ZM1218.5 201.0 L1218.5 668.4 L864.6 668.4 L864.6 645.6 L844.4 645.6 L844.4 668.4 L838.4 668.4 L838.4 688.1 L1218.5 688.1 L1218.5 1248.5 L742.5 1248.5 L742.5 1230.4 L698.0 1230.4 L698.0 1293.0 L1269.0 1293.0 L1269.0 158.0 L1144.8 158.0 L1144.8 201.0ZM277.6 158.0 L178.0 158.0 L178.0 540.4 L214.7 540.4 L214.7 458.0 L311.2 458.0 L311.2 438.0 L214.7 438.0 L214.7 201.0 L277.6 201.0ZM152.3 645.3 L152.3 1296.9 L202.0 1296.9 L202.0 1145.2 L698.0 1145.2 L698.0 1152.8 L743.0 1152.8 L743.0 1035.5 L722.6 1035.5 L722.6 1104.2 L466.3 1104.2 L466.3 688.1 L491.2 688.1 L491.2 668.4 L423.4 668.4 L423.4 688.1 L446.2 688.1 L446.2 1104.2 L202.0 1104.2 L202.0 688.1 L341.0 688.1 L341.0 668.4 L214.7 668.4 L214.7 633.3 L178.0 633.3 L178.0 645.3ZM755.0 668.4 L575.5 668.4 L575.5 688.1 L722.6 688.1 L722.6 734.0 L743.0 734.0 L743.0 688.1 L755.0 688.1Z" fill="#cac3b0" stroke="#2a261e" stroke-width="1.3" stroke-linejoin="miter"/></g>

<!-- WINDOWS -->
<g id="windows" fill="#fff" stroke="#2a2a2a" stroke-width="1.3">
  <rect x="277.6" y="158" width="112.1" height="43"/><path d="M277.6 179.3H389.7"/>
  <rect x="486.4" y="158" width="84" height="43"/><path d="M486.4 179.3H570.4"/>
  <rect x="652.3" y="158" width="124" height="43"/><path d="M652.3 179.3H776.3"/>
  <rect x="914.7" y="158" width="230.1" height="43"/><path d="M914.7 179.3H1144.8"/>
  <rect x="269.9" y="1104.2" width="122.4" height="41"/><path d="M269.9 1125H392.3"/>
  <rect x="513.9" y="1104.2" width="131.5" height="41"/><path d="M513.9 1125H645.4"/>
  <rect x="810.2" y="1249" width="364.6" height="44.5"/><path d="M810.2 1271H1174.8"/>
</g>

<!-- DOORS -->
<g id="doors">
  <g fill="none" stroke="#2a2a2a" stroke-width="1.4" stroke-dasharray="6 6">
    <path d="M380.5 366 A71.5 71.5 0 0 0 311.2 437.5"/>
    <path d="M563 365 A73 73 0 0 0 491.5 438"/>
    <path d="M771 436 A93 93 0 0 0 680.5 529.3"/>
    <path d="M308.6 633.3 A94 94 0 0 0 214.6 540.4"/>
    <path d="M421.5 772 A83 83 0 0 1 341 688.3"/>
    <path d="M493 772 A84 84 0 0 0 575.5 688.3"/>
    <path d="M756.5 772 A83 83 0 0 0 838.4 688.3"/>
    <path d="M948.7 645.6 A84 84 0 0 0 864.6 562"/>
    <path d="M822.9 1230.4 A80 80 0 0 0 742.5 1152.8"/>
  </g>
  <g fill="#fff" stroke="#2a2a2a" stroke-width="1.2">
    <rect x="379" y="365" width="3.5" height="72.5"/>
    <rect x="561" y="365" width="3.6" height="73"/>
    <rect x="766.7" y="436" width="5.9" height="93.3"/>
    <rect x="214.6" y="627" width="94" height="5.2"/>
    <rect x="419.2" y="688.3" width="4.9" height="85"/>
    <rect x="490.2" y="688.3" width="5.5" height="85"/>
    <rect x="753.4" y="688.3" width="6.1" height="84.6"/>
    <rect x="864.6" y="641.3" width="84.1" height="5.1"/>
    <rect x="742.5" y="1226.3" width="80.4" height="5"/>
  </g>
</g>

<path d="M374.0 380.0V375.0H379.0M382.5 375.0H387.5V380.0 M556.0 380.0V375.0H561.0M564.6 375.0H569.6V380.0 M761.7 451.0V446.0H766.7M772.6 446.0H777.6V451.0 M414.2 758.3V763.3H419.2M424.1 763.3H429.1V758.3 M485.2 758.3V763.3H490.2M495.7 763.3H500.7V758.3 M748.4 757.9V762.9H753.4M759.5 762.9H764.5V757.9 M293.6 622.0H298.6V627.0M298.6 632.2V637.2H293.6 M933.7 636.3H938.7V641.3M938.7 646.4V651.4H933.7 M807.9 1221.3H812.9V1226.3M812.9 1231.3V1236.3H807.9" fill="none" stroke="#2a2a2a" stroke-width="1.1"/>
<path d="M742.5 1152.8V1230.4" stroke="#2a2a2a" stroke-width="1.2"/>
<!-- BALCONY EDGE -->
<g filter="url(#shbal)"><path d="M188.5 1297 V1318.8 H698 V1293" fill="none" stroke="#111" stroke-width="3"/></g>

<text transform="translate(186.5 1250) rotate(-90)" font-size="36" fill="#1e1e1e" textLength="289" lengthAdjust="spacingAndGlyphs">©grundrissprofi.de</text>
</svg>
</body></html>
